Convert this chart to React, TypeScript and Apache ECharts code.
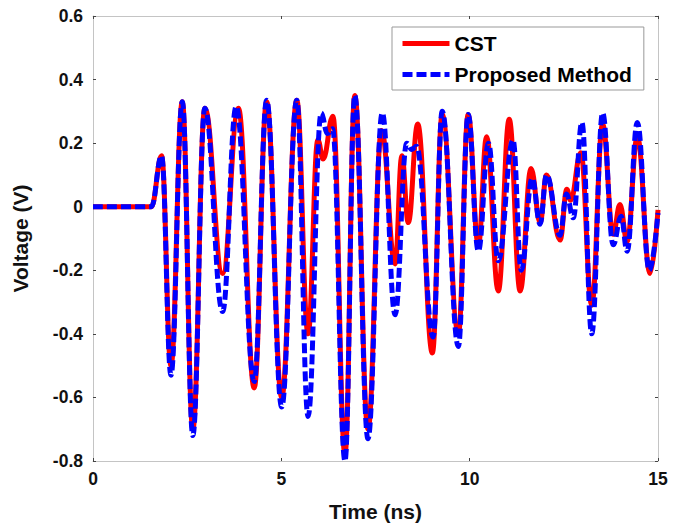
import { useEffect, useRef } from "react";
import * as echarts from "echarts";

// CST (reference simulation) — extrema
const CST_TIME = [0, 1.55, 1.82, 2.07, 2.37, 2.65, 2.97, 3.44, 3.86, 4.28, 4.61, 5.01, 5.41, 5.71, 5.97, 6.11, 6.37, 6.69, 6.95, 7.3, 7.66, 8.02, 8.2, 8.37, 8.62, 9.01, 9.27, 9.7, 9.96, 10.23, 10.45, 10.76, 11.05, 11.34, 11.63, 11.87, 12.04, 12.4, 12.58, 12.68, 12.95, 13.24, 13.53, 13.81, 13.99, 14.18, 14.45, 14.79, 15];
const CST_VOLT = [0, 0, 0.16, -0.5, 0.33, -0.7, 0.31, -0.21, 0.31, -0.57, 0.33, -0.6, 0.335, -0.4, 0.21, 0.15, 0.285, -0.78, 0.35, -0.7, 0.24, -0.18, 0.16, -0.05, 0.26, -0.46, 0.29, -0.4, 0.29, -0.12, 0.22, -0.265, 0.275, -0.265, 0.12, -0.05, 0.1, -0.105, 0.055, 0.02, 0.17, -0.31, 0.26, -0.087, 0.007, -0.11, 0.22, -0.21, -0.01];

// Proposed Method
const PM_TIME = [0, 1.55, 1.82, 2.07, 2.37, 2.65, 2.97, 3.44, 3.8, 4.28, 4.61, 5.01, 5.41, 5.71, 6.06, 6.22, 6.36, 6.69, 6.95, 7.3, 7.68, 8.02, 8.33, 8.46, 8.59, 9.03, 9.27, 9.7, 9.96, 10.23, 10.5, 10.76, 11.15, 11.37, 11.66, 11.87, 12.04, 12.4, 12.57, 12.75, 12.98, 13.24, 13.53, 13.81, 14.02, 14.18, 14.45, 14.77, 15];
const PM_VOLT = [0, 0, 0.16, -0.53, 0.33, -0.72, 0.31, -0.33, 0.315, -0.55, 0.335, -0.63, 0.335, -0.66, 0.295, 0.23, 0.245, -0.8, 0.35, -0.73, 0.295, -0.34, 0.2, 0.18, 0.19, -0.41, 0.3, -0.44, 0.29, -0.14, 0.2, -0.17, 0.21, -0.2, 0.09, -0.055, 0.1, -0.09, 0.04, -0.035, 0.265, -0.4, 0.295, -0.12, -0.03, -0.14, 0.265, -0.2, -0.02];

const SERIES_NAMES = ["CST", "Proposed Method"];
const X_RANGE = [0, 15, 5];
const Y_RANGE = [-0.8, 0.6, 0.2];

const FONT = "'Liberation Sans', Arial, Helvetica, sans-serif";

export default function App() {
  const ref = useRef<HTMLDivElement>(null);
  useEffect(() => {
    if (!ref.current) return;
    const chart = echarts.init(ref.current, null, { renderer: "svg" });
    const axisLine = { show: true, onZero: false, lineStyle: { color: "#c4c4c4", width: 1 } };
    const axisTick = { show: true, inside: true, length: 3, lineStyle: { color: "#444", width: 1 } };
    const label = { fontSize: 17.5, fontWeight: "bold", color: "#111", fontFamily: FONT };
    const fmt = (v: number) => String(Number(v.toFixed(1)));
    chart.setOption({
      animation: false,
      backgroundColor: "#fff",
      grid: { left: 93, right: 25, top: 16, bottom: 63, show: false },
      legend: {
        left: 392,
        top: 27,
        orient: "vertical",
        padding: [6, 12, 5, 8],
        itemGap: 10,
        itemWidth: 47,
        itemHeight: 14,
        borderColor: "#999",
        borderWidth: 1,
        backgroundColor: "#fff",
        itemStyle: { opacity: 0, borderWidth: 0 },
        lineStyle: { width: 5 },
        textStyle: { fontSize: 21, fontWeight: "bold", color: "#000", fontFamily: FONT },
        data: SERIES_NAMES,
      },
      xAxis: [
        {
          type: "value", min: X_RANGE[0], max: X_RANGE[1], interval: X_RANGE[2], position: "bottom",
          axisLine, axisTick, splitLine: { show: false },
          axisLabel: { ...label, margin: 9 },
          name: "Time (ns)", nameLocation: "middle", nameGap: 40,
          nameTextStyle: { fontSize: 21, fontWeight: "bold", color: "#111", fontFamily: FONT },
        },
        {
          type: "value", min: X_RANGE[0], max: X_RANGE[1], interval: X_RANGE[2], position: "top",
          axisLine, axisTick, splitLine: { show: false }, axisLabel: { show: false },
        },
      ],
      yAxis: [
        {
          type: "value", min: Y_RANGE[0], max: Y_RANGE[1], interval: Y_RANGE[2], position: "left",
          axisLine, axisTick, splitLine: { show: false },
          axisLabel: { ...label, margin: 10, formatter: fmt },
          name: "Voltage (V)", nameLocation: "middle", nameGap: 62,
          nameTextStyle: { fontSize: 21, fontWeight: "bold", color: "#111", fontFamily: FONT },
        },
        {
          type: "value", min: Y_RANGE[0], max: Y_RANGE[1], interval: Y_RANGE[2], position: "right",
          axisLine, axisTick, splitLine: { show: false }, axisLabel: { show: false },
        },
      ],
      series: [
        {
          name: SERIES_NAMES[0], type: "line", xAxisIndex: 0, yAxisIndex: 0,
          data: CST_TIME.map((t, i) => [t, CST_VOLT[i]]),
          symbol: "none", smooth: 0.42, smoothMonotone: "x", clip: true,
          lineStyle: { color: "#ff0000", width: 5 },
          itemStyle: { color: "#ff0000" },
          z: 2,
        },
        {
          name: SERIES_NAMES[1], type: "line", xAxisIndex: 0, yAxisIndex: 0,
          data: PM_TIME.map((t, i) => [t, PM_VOLT[i]]),
          symbol: "none", smooth: 0.42, smoothMonotone: "x", clip: true,
          lineStyle: { color: "#0000ff", width: 5, type: [10, 4] },
          itemStyle: { color: "#0000ff" },
          z: 3,
        },
      ],
    });
    return () => chart.dispose();
  }, []);
  return (
    <div
      ref={ref}
      style={{ position: "absolute", left: 0, top: 0, width: 683, height: 527, background: "#fff" }}
    />
  );
}
